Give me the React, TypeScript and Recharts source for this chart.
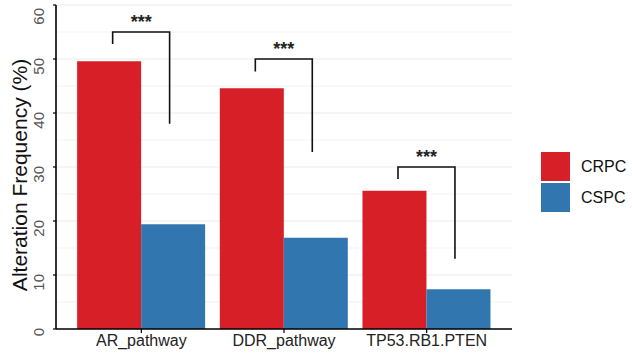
import { Bar, BarChart, CartesianGrid, LabelList, Legend, XAxis, YAxis } from 'recharts';

const categories = ['AR_pathway', 'DDR_pathway', 'TP53.RB1.PTEN'];
const crpc = [49.6, 44.6, 25.6];
const cspc = [19.4, 16.9, 7.35];
const yTicks = [0, 10, 20, 30, 40, 50, 60];
const minorLines = [5, 15, 25, 35, 45, 55];
const yTitle = 'Alteration Frequency (%)';

// significance brackets: top of bracket, left leg end, right leg end (in %)
const bracketTop = [55, 50, 30];
const bracketLeft = [52.8, 47.7, 27.8];
const bracketRight = [38, 32.8, 13];
const bracketText = ['***', '***', '***'];

const RED = '#D61F26';
const BLUE = '#3176AF';

const data = categories.map((name, i) => ({ name, CRPC: crpc[i], CSPC: cspc[i] }));

function Bracket(props: any) {
  const vb = props.viewBox ?? props;
  const { x, y, width, height } = vb;
  const i = props.index;
  const perUnit = height / crpc[i];
  const base = y + height;
  const toY = (v: number) => base - v * perUnit;
  const left = x + width * 0.555;
  const right = x + width * 1.445;
  const top = toY(bracketTop[i]);
  return (
    <g>
      <path
        d={`M${left},${toY(bracketLeft[i])} L${left},${top} L${right},${top} L${right},${toY(bracketRight[i])}`}
        fill="none"
        stroke="#111"
        strokeWidth={1.6}
      />
      <text x={(left + right) / 2} y={top - 4} textAnchor="middle" fontSize={18} fontWeight="bold" fill="#222">
        {bracketText[i]}
      </text>
    </g>
  );
}

function YTick(props: any) {
  const { y, payload } = props;
  const cx = 38.5;
  const ty = y - 1;
  return (
    <text x={cx} y={ty} transform={`rotate(-90, ${cx}, ${ty})`} textAnchor="end" dominantBaseline="central" fontSize={15} fill="#555">
      {payload.value}
    </text>
  );
}

function YTitle(props: any) {
  const vb = props.viewBox ?? {};
  const cy = vb.y + vb.height / 2 + 8;
  const bx = 27;
  return (
    <text x={bx} y={cy} transform={`rotate(-90, ${bx}, ${cy})`} textAnchor="middle" fontSize={21} fill="#111">
      {yTitle}
    </text>
  );
}

function LegendBox(props: any) {
  const items = props.payload ?? [];
  return (
    <div>
      {items.map((it: any) => (
        <div key={it.value} style={{ display: 'flex', alignItems: 'center', height: 31 }}>
          <div style={{ width: 29, height: 29, background: it.color, marginRight: 11 }} />
          <span style={{ fontSize: 16, color: '#111' }}>{it.value}</span>
        </div>
      ))}
    </div>
  );
}

export default function App() {
  return (
    <div style={{ position: 'absolute', left: 0, top: 0, background: '#fff', fontFamily: 'Liberation Sans, Arial, sans-serif' }}>
      <BarChart width={632} height={356} data={data} margin={{ top: 5, right: 120, bottom: 0, left: 0 }} barCategoryGap="5%" barGap={0}>
        <CartesianGrid vertical={false} horizontalValues={minorLines} stroke="#f3f3f3" strokeWidth={1} />
        <CartesianGrid vertical={false} stroke="#ebebeb" strokeWidth={1.1} />
        <XAxis
          dataKey="name"
          height={27}
          padding={{ left: 14, right: 14 }}
          axisLine={{ stroke: '#000', strokeWidth: 1.6 }}
          tickLine={{ stroke: '#000', strokeWidth: 1.2 }}
          tickSize={4}
          tick={{ fill: '#222', fontSize: 16 }}
          interval={0}
        />
        <YAxis
          width={56}
          domain={[0, 60]}
          ticks={yTicks}
          allowDataOverflow
          axisLine={{ stroke: '#000', strokeWidth: 1.6 }}
          tickLine={{ stroke: '#000', strokeWidth: 1.2 }}
          tickSize={3}
          tick={<YTick />}
          label={{ value: yTitle, content: <YTitle /> }}
        />
        <Legend
          layout="vertical"
          align="center"
          verticalAlign="middle"
          wrapperStyle={{ left: 541, top: 151, width: 90 }}
          content={<LegendBox />}
        />
        <Bar dataKey="CRPC" fill={RED} isAnimationActive={false}>
          <LabelList dataKey="CRPC" content={<Bracket />} />
        </Bar>
        <Bar dataKey="CSPC" fill={BLUE} isAnimationActive={false} />
      </BarChart>
    </div>
  );
}
